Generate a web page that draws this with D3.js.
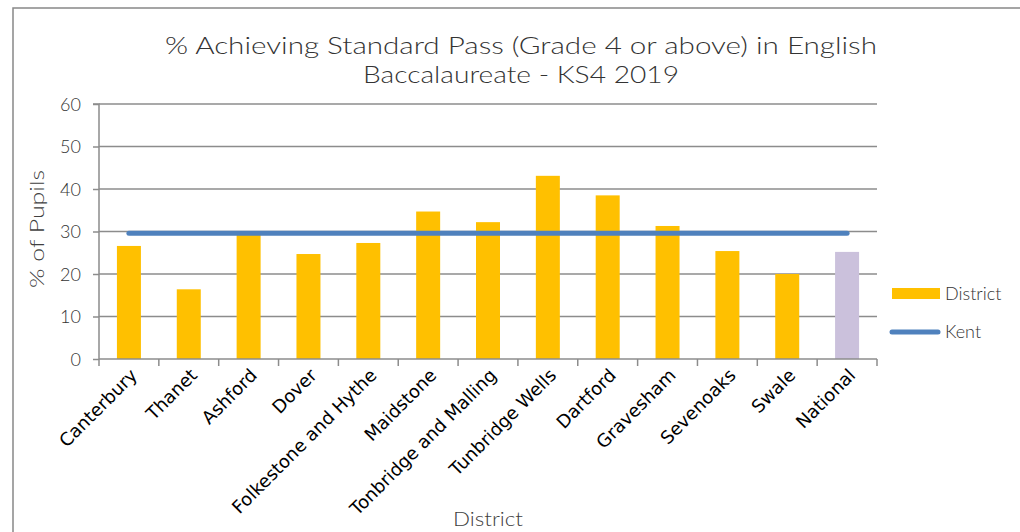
<!DOCTYPE html>
<html><head><meta charset="utf-8">
<script src="https://cdn.jsdelivr.net/npm/d3@7"></script>
<style>body{margin:0;background:#fff}svg{display:block}</style>
</head><body>
<svg id="c" width="1020" height="532"></svg>
<script>
const categories = ["Canterbury","Thanet","Ashford","Dover","Folkestone and Hythe","Maidstone","Tonbridge and Malling","Tunbridge Wells","Dartford","Gravesham","Sevenoaks","Swale","National"];
const districtValues = [26.6,16.4,29.4,24.7,27.3,34.7,32.2,43.1,38.5,31.3,25.4,20.0,25.2];
const kentValue = 29.6;
const yTicks = [0,10,20,30,40,50,60];
const titleLines = ["% Achieving Standard Pass (Grade 4 or above) in English","Baccalaureate - KS4 2019"];

const svg = d3.select("#c");
const font = "Lato, 'Open Sans', sans-serif";
const L = 99, R = 877, T = 104, B = 359;

svg.append("rect").attr("x",13).attr("y",8).attr("width",1030).attr("height",540)
  .attr("fill","#fff").attr("stroke","#888").attr("stroke-width",1.5);

const xb = d3.scaleBand().domain(categories).range([L,R]);
const y = d3.scaleLinear().domain([0,60]).range([B,T]);

// gridlines
svg.append("g").selectAll("line").data(yTicks.slice(1)).join("line")
  .attr("x1",L).attr("x2",R).attr("y1",d=>y(d)).attr("y2",d=>y(d))
  .attr("stroke","#8c8c8c").attr("stroke-width",1.5);

// bars
svg.append("g").selectAll("rect").data(categories).join("rect")
  .attr("x",d=>xb(d)+xb.bandwidth()/2-12).attr("width",24)
  .attr("y",(d,i)=>y(districtValues[i])).attr("height",(d,i)=>B-y(districtValues[i]))
  .attr("fill",d=>d==="National"?"#cbc1dc":"#ffc000");

// y axis
const yAxis = svg.append("g").attr("transform",`translate(${L},0)`)
  .call(d3.axisLeft(y).tickValues(yTicks).tickSize(6).tickPadding(12));
yAxis.select(".domain").attr("stroke","#8c8c8c").attr("stroke-width",1.5).attr("d",`M-6,${T}H0V${B}`);
yAxis.selectAll(".tick line").attr("stroke","#8c8c8c").attr("stroke-width",1.5);
yAxis.selectAll("text").attr("font-family",font).attr("font-weight",300).attr("font-size",18).attr("fill","#333").attr("dy","0.35em");

// x axis
const xAxis = svg.append("g").attr("transform",`translate(0,${B})`)
  .call(d3.axisBottom(xb).tickSize(0).tickFormat(""));
xAxis.select(".domain").attr("stroke","#8c8c8c").attr("stroke-width",1.5).attr("d",`M${L},0H${R}`);
const bounds = categories.map((c,i)=>xb(c)).concat([R]);
xAxis.selectAll(".bt").data(bounds).join("line").attr("class","bt")
  .attr("x1",d=>d).attr("x2",d=>d).attr("y1",0).attr("y2",7)
  .attr("stroke","#8c8c8c").attr("stroke-width",1.5);
xAxis.selectAll(".lbl").data(categories).join("text").attr("class","lbl")
  .attr("transform",d=>`translate(${xb(d)+xb.bandwidth()/2+5},${13}) rotate(-45)`)
  .attr("text-anchor","end").attr("dy","0.35em")
  .attr("font-family","'DejaVu Sans', Verdana, sans-serif").attr("font-size",18).attr("fill","#000")
  .text(d=>d);

// kent line
const first = categories[0], last = categories[categories.length-1];
svg.append("line")
  .attr("x1",xb(first)+xb.bandwidth()/2).attr("x2",xb(last)+xb.bandwidth()/2)
  .attr("y1",y(kentValue)).attr("y2",y(kentValue))
  .attr("stroke","#4f81bd").attr("stroke-width",5).attr("stroke-linecap","round");

// title
svg.append("g").selectAll("text").data(titleLines).join("text")
  .attr("x",521).attr("y",(d,i)=>54+i*29).attr("text-anchor","middle")
  .attr("font-family",font).attr("font-size",24).attr("font-weight",300).attr("fill","#333")
  .attr("textLength",(d,i)=>i===0?712:316).attr("lengthAdjust","spacingAndGlyphs")
  .text(d=>d);

// axis titles
svg.append("text").attr("transform","translate(44,229) rotate(-90)").attr("text-anchor","middle")
  .attr("font-family",font).attr("font-weight",300).attr("font-size",20).attr("fill","#404040")
  .attr("textLength",118).attr("lengthAdjust","spacingAndGlyphs").text("% of Pupils");
svg.append("text").attr("x",488).attr("y",526).attr("text-anchor","middle")
  .attr("font-family",font).attr("font-weight",300).attr("font-size",19).attr("fill","#404040")
  .attr("textLength",70).attr("lengthAdjust","spacingAndGlyphs").text("District");

// legend
const lg = svg.append("g");
lg.append("rect").attr("x",892).attr("y",288).attr("width",48).attr("height",11).attr("fill","#ffc000");
lg.append("text").attr("x",945).attr("y",300).attr("font-family",font).attr("font-weight",300).attr("font-size",18).attr("fill","#333").text("District");
lg.append("line").attr("x1",892).attr("x2",938).attr("y1",332).attr("y2",332)
  .attr("stroke","#4f81bd").attr("stroke-width",5).attr("stroke-linecap","round");
lg.append("text").attr("x",945).attr("y",338).attr("font-family",font).attr("font-weight",300).attr("font-size",18).attr("fill","#333").text("Kent");
</script>
</body></html>
